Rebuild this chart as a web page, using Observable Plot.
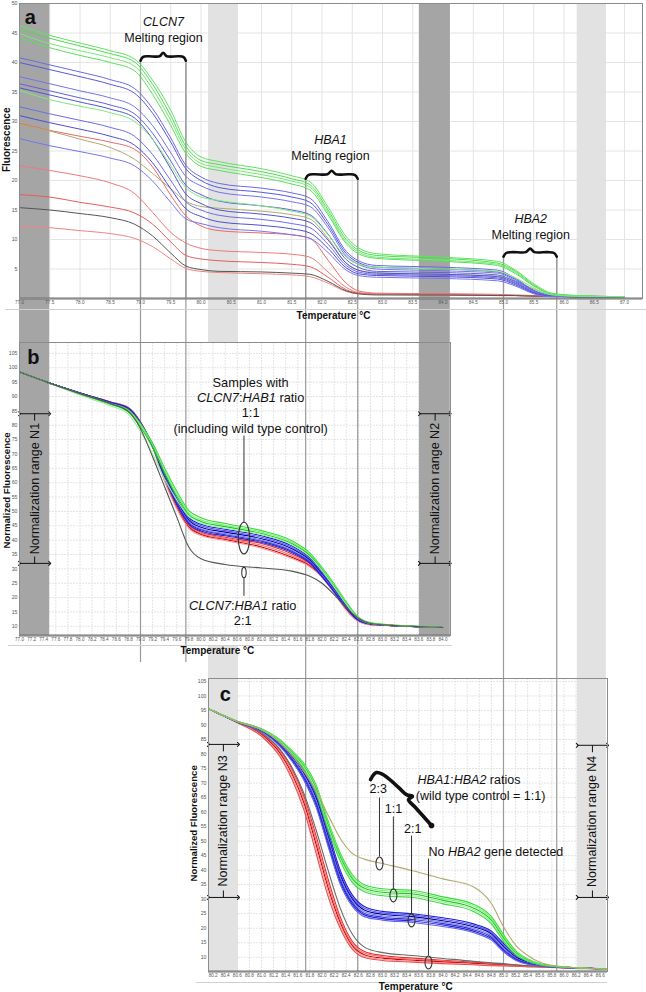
<!DOCTYPE html>
<html>
<head>
<meta charset="utf-8">
<script src="https://cdn.jsdelivr.net/npm/d3@7"></script>
<script src="https://cdn.jsdelivr.net/npm/@observablehq/plot@0.6"></script>
<style>
  html, body { margin: 0; padding: 0; background: #ffffff; }
  #page { position: relative; width: 646px; height: 992px; overflow: hidden; background: #fff; }
  .layer { position: absolute; left: 0; }
  .layer svg { display: block; overflow: visible; max-width: none; }
</style>
</head>
<body>
<div id="page"></div>
<script>
// ================= DATA =================
// ---- panel a : raw fluorescence vs temperature ----
const tempsA = [77.0, 77.5, 78.0, 78.5, 78.9, 79.2, 79.5, 79.75, 80.0, 80.3, 81.0, 81.5, 81.8, 82.1, 82.4, 82.6, 82.9, 84.0, 84.9, 85.2, 85.5, 85.8, 86.2, 87.0];
const aGreen = [
  [46.3, 44.6, 43.3, 42.0, 40.6, 37.0, 31.9, 26.5, 24.0, 23.2, 22.0, 20.8, 19.8, 15.5, 10.5, 8.6, 7.6, 7.0, 6.3, 4.8, 2.5, 0.9, 0.5, 0.3],
  [45.6, 44.1, 42.8, 41.5, 40.1, 36.3, 31.0, 25.8, 23.4, 22.7, 21.5, 20.3, 19.3, 15.0, 10.0, 8.2, 7.3, 6.8, 6.0, 4.6, 2.3, 0.8, 0.5, 0.3],
  [44.9, 43.2, 42.0, 40.8, 39.4, 35.5, 30.2, 25.2, 22.9, 22.2, 21.0, 19.9, 18.9, 14.6, 9.6, 7.9, 7.0, 6.5, 5.8, 4.4, 2.2, 0.8, 0.4, 0.3],
  [44.2, 42.5, 41.2, 40.0, 38.6, 34.6, 29.3, 24.6, 22.4, 21.7, 20.5, 19.4, 18.4, 14.2, 9.3, 7.6, 6.8, 6.3, 5.6, 4.2, 2.1, 0.7, 0.4, 0.3],
  [35.3, 33.7, 32.6, 31.5, 30.0, 27.0, 22.5, 18.8, 17.2, 16.6, 15.7, 14.8, 14.0, 10.8, 7.0, 5.8, 5.3, 5.0, 4.6, 3.5, 1.8, 0.6, 0.4, 0.3]
];
const aBlue = [
  [40.8, 39.6, 38.4, 37.1, 35.6, 32.2, 27.2, 22.6, 20.6, 19.5, 18.7, 17.9, 17.0, 13.0, 8.0, 6.4, 5.6, 5.3, 4.8, 3.4, 1.4, 0.5, 0.3, 0.3],
  [40.0, 38.8, 37.6, 36.3, 34.8, 31.4, 26.5, 22.0, 20.0, 18.8, 18.0, 17.2, 16.3, 12.5, 7.6, 6.1, 5.3, 5.0, 4.5, 3.2, 1.3, 0.5, 0.3, 0.3],
  [37.6, 36.4, 35.2, 34.0, 32.5, 29.3, 24.7, 20.7, 19.1, 18.0, 17.2, 16.4, 15.6, 12.0, 7.2, 5.8, 5.0, 4.7, 4.3, 3.0, 1.2, 0.5, 0.3, 0.3],
  [36.4, 35.2, 34.0, 32.8, 31.3, 28.0, 23.3, 19.2, 17.6, 16.5, 15.7, 15.0, 14.2, 10.9, 6.6, 5.3, 4.6, 4.4, 4.0, 2.8, 1.1, 0.4, 0.3, 0.3],
  [35.7, 34.5, 33.3, 32.1, 30.6, 27.0, 22.0, 17.7, 16.1, 15.0, 14.3, 13.6, 12.9, 9.9, 6.0, 4.8, 4.3, 4.1, 3.7, 2.6, 1.0, 0.4, 0.3, 0.3],
  [32.5, 31.3, 30.2, 29.0, 27.5, 24.4, 20.0, 16.4, 15.0, 14.1, 13.4, 12.7, 12.0, 9.2, 5.6, 4.5, 4.1, 3.9, 3.5, 2.5, 1.0, 0.4, 0.3, 0.3],
  [31.0, 29.8, 28.7, 27.5, 26.0, 23.0, 18.6, 15.2, 13.9, 13.0, 12.4, 11.8, 11.1, 8.5, 5.2, 4.2, 3.9, 3.7, 3.3, 2.3, 0.9, 0.4, 0.3, 0.3],
  [27.1, 25.9, 24.9, 23.8, 22.5, 19.9, 16.3, 13.5, 12.7, 12.0, 11.4, 10.8, 10.2, 7.8, 4.8, 3.9, 3.6, 3.4, 3.0, 2.1, 0.8, 0.3, 0.3, 0.3]
];
const aRed = [
  [29.7, 28.5, 27.5, 26.5, 25.3, 22.3, 17.5, 14.0, 12.3, 11.5, 11.1, 10.8, 10.2, 6.5, 2.6, 1.3, 0.9, 0.8, 0.7, 0.6, 0.5, 0.4, 0.4, 0.3],
  [22.5, 21.7, 20.8, 19.6, 17.8, 14.6, 11.2, 9.4, 8.5, 8.1, 7.8, 7.5, 7.0, 4.5, 1.9, 1.0, 0.8, 0.7, 0.6, 0.5, 0.4, 0.4, 0.3, 0.3],
  [17.6, 17.2, 16.3, 15.5, 14.5, 12.6, 9.6, 7.3, 6.7, 6.4, 6.1, 5.8, 5.4, 3.6, 1.5, 0.9, 0.7, 0.6, 0.5, 0.5, 0.4, 0.4, 0.3, 0.3],
  [12.2, 12.0, 11.5, 11.0, 10.2, 8.8, 6.7, 5.1, 4.6, 4.4, 4.2, 4.0, 3.7, 2.6, 1.2, 0.8, 0.7, 0.6, 0.5, 0.5, 0.4, 0.4, 0.3, 0.3]
];
const aBlack = [
  [15.4, 15.0, 14.4, 13.7, 12.6, 10.6, 7.7, 5.5, 4.9, 4.6, 4.5, 4.3, 4.1, 2.9, 1.3, 0.8, 0.6, 0.6, 0.5, 0.5, 0.4, 0.4, 0.3, 0.3]
];
const aOlive = [
  [29.5, 28.4, 27.0, 25.6, 23.6, 21.2, 18.6, 16.5, 15.6, 15.3, 14.8, 14.2, 13.5, 10.2, 6.0, 4.8, 4.4, 4.1, 3.8, 2.9, 1.6, 0.6, 0.4, 0.3]
];

// ---- panel b : normalized to N1 / N2 ----
const tempsB = [77.0, 77.45, 78.0, 78.5, 78.8, 79.0, 79.2, 79.4, 79.6, 79.8, 80.0, 80.4, 81.0, 81.5, 81.8, 82.0, 82.2, 82.4, 82.6, 82.8, 83.2, 83.6, 84.0];
const bGreen = [
  [98.5, 95.0, 91.0, 87.6, 85.3, 80.6, 73.8, 65.0, 57.0, 50.3, 47.8, 45.8, 43.3, 39.8, 35.5, 30.5, 24.8, 18.5, 13.2, 11.3, 10.4, 10.0, 9.6],
  [98.5, 95.0, 90.9, 87.5, 85.0, 80.1, 73.1, 64.2, 56.2, 49.5, 47.1, 45.2, 42.8, 39.3, 35.0, 30.1, 24.4, 18.2, 13.0, 11.2, 10.4, 10.0, 9.6],
  [98.5, 95.0, 90.8, 87.3, 84.6, 79.4, 72.2, 63.3, 55.3, 48.8, 46.5, 44.7, 42.3, 38.8, 34.6, 29.7, 24.0, 17.9, 12.9, 11.1, 10.3, 9.9, 9.6],
  [98.5, 95.0, 90.5, 86.8, 83.8, 77.8, 70.0, 61.2, 54.0, 48.2, 46.0, 44.2, 41.9, 38.4, 34.2, 29.4, 23.7, 17.7, 12.8, 11.0, 10.3, 9.9, 9.6]
];
const bBlue = [
  [98.5, 95.0, 91.1, 87.9, 85.7, 80.7, 73.4, 63.2, 54.5, 47.8, 45.5, 43.8, 41.5, 38.0, 33.8, 29.0, 23.4, 17.4, 12.6, 11.0, 10.3, 9.9, 9.6],
  [98.5, 95.0, 91.1, 87.9, 85.7, 80.6, 73.1, 62.8, 54.0, 47.3, 45.0, 43.3, 41.0, 37.5, 33.4, 28.6, 23.1, 17.1, 12.5, 11.0, 10.3, 9.9, 9.6],
  [98.5, 95.0, 91.1, 87.9, 85.8, 80.7, 73.0, 62.5, 53.6, 46.9, 44.5, 42.8, 40.5, 37.0, 33.0, 28.2, 22.8, 16.9, 12.4, 10.9, 10.3, 9.9, 9.6],
  [98.5, 95.0, 91.2, 88.0, 85.8, 80.8, 72.9, 62.2, 53.2, 46.4, 44.0, 42.3, 40.0, 36.5, 32.6, 27.8, 22.5, 16.7, 12.3, 10.9, 10.2, 9.9, 9.6],
  [98.5, 95.0, 91.2, 88.0, 85.9, 80.8, 72.8, 61.9, 52.8, 46.0, 43.6, 41.9, 39.6, 36.1, 32.3, 27.5, 22.2, 16.5, 12.2, 10.8, 10.2, 9.9, 9.6],
  [98.5, 95.0, 91.2, 88.0, 85.9, 80.9, 72.7, 61.6, 52.4, 45.6, 43.2, 41.5, 39.2, 35.7, 32.0, 27.2, 22.0, 16.3, 12.1, 10.8, 10.2, 9.9, 9.6]
];
const bRed = [
  [98.5, 95.0, 91.2, 88.1, 86.0, 81.0, 72.8, 61.5, 52.1, 45.2, 42.8, 41.0, 38.8, 35.2, 31.8, 28.0, 22.3, 16.2, 12.0, 10.7, 10.2, 9.9, 9.6],
  [98.5, 95.0, 91.2, 88.1, 86.0, 81.0, 72.6, 61.1, 51.7, 44.8, 42.4, 40.6, 38.2, 34.6, 31.4, 27.7, 22.0, 16.0, 11.9, 10.6, 10.2, 9.9, 9.6],
  [98.5, 95.0, 91.2, 88.1, 86.1, 81.1, 72.5, 60.8, 51.3, 44.5, 42.0, 40.2, 37.6, 34.0, 31.0, 27.4, 21.8, 15.8, 11.8, 10.6, 10.2, 9.9, 9.6],
  [98.5, 95.0, 91.2, 88.2, 86.1, 81.1, 72.3, 60.4, 50.9, 44.1, 41.6, 39.9, 37.2, 33.6, 30.7, 27.1, 21.6, 15.6, 11.7, 10.5, 10.2, 9.9, 9.6]
];
const bBlack = [
  [98.5, 95.0, 91.0, 87.6, 84.8, 78.8, 69.0, 58.5, 48.0, 37.5, 33.5, 31.5, 30.3, 29.2, 27.4, 25.0, 21.0, 16.5, 12.8, 11.0, 10.3, 9.9, 9.6]
];

// ---- panel c : normalized to N3 / N4 ----
const tempsC = [80.13, 80.6, 81.0, 81.3, 81.5, 81.7, 81.9, 82.1, 82.3, 82.5, 82.7, 83.0, 83.5, 84.0, 84.5, 84.8, 85.0, 85.2, 85.4, 85.6, 85.9, 86.3, 86.7];
const cRed = [
  [95.5, 91.0, 87.2, 81.5, 75.0, 65.5, 52.0, 37.0, 24.0, 15.5, 12.0, 10.6, 9.7, 9.0, 8.3, 7.9, 7.6, 7.3, 7.1, 6.9, 6.6, 6.3, 6.0],
  [95.5, 91.0, 87.0, 81.0, 74.2, 64.5, 50.5, 35.5, 23.0, 14.8, 11.5, 10.2, 9.4, 8.7, 8.1, 7.7, 7.5, 7.2, 7.0, 6.8, 6.6, 6.3, 6.0],
  [95.5, 90.9, 86.7, 80.4, 73.3, 63.2, 49.0, 34.0, 22.0, 14.0, 10.9, 9.7, 9.0, 8.4, 7.9, 7.5, 7.3, 7.1, 6.9, 6.8, 6.5, 6.3, 6.0],
  [95.5, 90.9, 86.4, 79.8, 72.4, 62.0, 47.5, 32.6, 21.0, 13.4, 10.4, 9.3, 8.6, 8.1, 7.6, 7.3, 7.1, 7.0, 6.8, 6.7, 6.5, 6.2, 6.0],
  [95.5, 90.8, 86.1, 79.2, 71.5, 60.8, 46.0, 31.0, 20.0, 12.8, 9.9, 8.9, 8.3, 7.8, 7.4, 7.1, 7.0, 6.9, 6.7, 6.6, 6.4, 6.2, 6.0]
];
const cGray = [
  [95.5, 91.0, 87.3, 81.8, 75.5, 66.5, 54.0, 40.0, 27.0, 18.0, 13.5, 11.6, 10.6, 9.6, 8.6, 8.1, 7.8, 7.4, 7.1, 6.9, 6.6, 6.3, 6.0]
];
const cBlue = [
  [95.5, 91.2, 88.3, 84.2, 80.0, 74.5, 66.5, 53.5, 40.0, 31.5, 27.5, 25.8, 25.0, 23.6, 21.5, 19.0, 14.8, 10.8, 8.7, 7.6, 6.8, 6.3, 6.0],
  [95.5, 91.2, 88.2, 84.0, 79.6, 74.0, 65.8, 52.6, 39.2, 30.8, 26.9, 25.3, 24.5, 23.1, 21.0, 18.5, 14.2, 10.4, 8.5, 7.5, 6.8, 6.3, 6.0],
  [95.5, 91.1, 88.1, 83.7, 79.2, 73.4, 65.0, 51.7, 38.4, 30.1, 26.3, 24.8, 24.0, 22.6, 20.5, 18.0, 13.7, 10.1, 8.3, 7.4, 6.7, 6.3, 6.0],
  [95.5, 91.1, 88.0, 83.5, 78.8, 72.8, 64.2, 50.8, 37.6, 29.4, 25.7, 24.3, 23.5, 22.1, 20.0, 17.4, 13.2, 9.8, 8.1, 7.3, 6.7, 6.3, 6.0],
  [95.5, 91.1, 87.9, 83.2, 78.4, 72.2, 63.4, 49.9, 36.8, 28.8, 25.1, 23.8, 23.0, 21.6, 19.5, 16.9, 12.7, 9.5, 7.9, 7.2, 6.6, 6.3, 6.0],
  [95.5, 91.0, 87.8, 83.0, 78.0, 71.6, 62.6, 49.0, 36.0, 28.2, 24.6, 23.3, 22.5, 21.1, 19.0, 16.4, 12.3, 9.2, 7.8, 7.1, 6.6, 6.2, 6.0],
  [95.5, 91.0, 87.7, 82.7, 77.6, 71.0, 61.8, 48.2, 35.2, 27.6, 24.0, 22.8, 22.0, 20.6, 18.5, 15.9, 11.9, 9.0, 7.6, 7.0, 6.5, 6.2, 6.0]
];
const cGreen = [
  [95.5, 91.3, 88.7, 85.0, 81.2, 76.8, 69.5, 57.0, 46.0, 38.5, 35.0, 33.6, 33.0, 30.8, 28.3, 24.0, 17.8, 12.3, 9.4, 7.8, 6.9, 6.3, 6.0],
  [95.5, 91.3, 88.6, 84.8, 80.9, 76.3, 68.8, 56.2, 45.3, 37.8, 34.4, 33.0, 32.4, 30.2, 27.7, 23.4, 17.2, 11.9, 9.2, 7.7, 6.9, 6.3, 6.0],
  [95.5, 91.2, 88.5, 84.6, 80.6, 75.8, 68.2, 55.5, 44.6, 37.1, 33.8, 32.4, 31.8, 29.6, 27.0, 22.7, 16.6, 11.5, 9.0, 7.6, 6.8, 6.3, 6.0],
  [95.5, 91.2, 88.4, 84.4, 80.3, 75.3, 67.5, 54.7, 43.9, 36.4, 33.2, 31.8, 31.2, 29.0, 26.4, 22.1, 16.0, 11.2, 8.8, 7.5, 6.8, 6.3, 6.0],
  [95.5, 91.2, 88.3, 84.2, 80.0, 74.8, 66.8, 54.0, 43.2, 35.8, 32.6, 31.2, 30.6, 28.4, 25.8, 21.5, 15.5, 10.9, 8.6, 7.4, 6.7, 6.3, 6.0]
];
const cOlive = [
  [95.5, 91.3, 88.4, 84.0, 79.6, 74.0, 67.5, 59.0, 51.0, 45.8, 43.8, 42.3, 39.8, 37.0, 34.3, 28.5, 20.5, 14.2, 10.6, 8.3, 6.9, 6.3, 6.0]
];

// ---- colours ----
const greensA = ["#5fe35f", "#4fdc4f", "#72ea72", "#58e058", "#7aeb7a"];
const bluesA = ["#6a6ae4", "#5858dc", "#7474ea", "#6060e0", "#5252d6", "#6c6cea", "#4e4ed6", "#7676ee"];
const redsA = ["#ec6868", "#f07a7a", "#e65c5c", "#f08484"];
const greensBC = ["#33dd33", "#77ee77", "#22c822", "#99f099", "#44d844"];
const bluesBC = ["#1a1ad8", "#5555e8", "#0000a8", "#7777ee", "#3030c8", "#2222e0", "#6262e6"];
const redsBC = ["#ee2a2a", "#f07070", "#cc0000", "#f49a9a", "#e85050"];
const blackCol = "#555555", olivePaleCol = "#b2aa6c";

// ---- temperature-defined regions ----
const DARK = "#a5a5a5", LIGHT = "#e2e2e2";
const normRanges = [
  {id: "N1", t1: 77.0, t2: 77.5, fill: DARK},
  {id: "N2", t1: 83.61, t2: 84.12, fill: DARK},
  {id: "N3", t1: 80.124, t2: 80.62, fill: LIGHT},
  {id: "N4", t1: 86.22, t2: 86.7, fill: LIGHT}
];
const meltRegions = [
  {gene: "CLCN7", t1: 79.0, t2: 79.75, v: 40.3, labelT: 79.38, labelV: 46.8},
  {gene: "HBA1", t1: 81.73, t2: 82.59, v: 20.3, labelT: 82.14, labelV: 26.8},
  {gene: "HBA2", t1: 85.0, t2: 85.88, v: 7.1, labelT: 85.45, labelV: 13.4}
];

// ---- annotation texts / positions (data units) ----
const bNotes = [
  {t: 80.82, v: 94.8, s: "Samples with"},
  {t: 80.82, v: 89.6, s: "_CLCN7_:_HAB1_ ratio"},
  {t: 80.82, v: 84.4, s: "1:1"},
  {t: 80.82, v: 78.8, s: "(including wild type control)"},
  {t: 80.69, v: 17.0, s: "_CLCN7_:_HBA1_ ratio"},
  {t: 80.69, v: 11.8, s: "2:1"}
];
const bLeaders = [{t: 80.71, v1: 76.4, v2: 46.2}, {t: 80.71, v1: 26.9, v2: 20.6}];
const bEllipses = [{t: 80.71, v: 40.7, rx: 5.7, ry: 15.8}, {t: 80.71, v: 28.7, rx: 2.2, ry: 5.2}];
const cNotesLeft = [
  {t: 83.58, v: 71.2, s: "_HBA1_:_HBA2_ ratios"},
  {t: 83.55, v: 65.4, s: "(wild type control = 1:1)"},
  {t: 83.76, v: 46.4, s: "No _HBA2_ gene detected"}
];
const cRatioLabels = [
  {t: 82.93, v: 68.1, s: "2:3"},
  {t: 83.18, v: 60.9, s: "1:1"},
  {t: 83.50, v: 54.3, s: "2:1"}
];
const cLeaders = [
  {t: 82.95, v1: 65.0, v2: 44.7},
  {t: 83.18, v1: 58.5, v2: 33.7},
  {t: 83.48, v1: 51.9, v2: 25.1},
  {t: 83.76, v1: 44.0, v2: 10.6}
];
const cEllipses = [{t: 82.95, v: 42.3}, {t: 83.18, v: 31.3}, {t: 83.48, v: 22.7}, {t: 83.76, v: 8.2}];
const cBraceT = [82.802, 82.901, 83.033, 83.264, 83.397, 83.496, 83.430, 83.529, 83.678, 83.810];
const cBraceV = [71.2, 73.6, 72.6, 68.5, 66.0, 65.4, 64.3, 61.9, 58.5, 55.4];
const bNorm = [
  {id: "N1", t1: 77.0, t2: 77.5, tc: 77.25, vTop: 84.0, vBot: 31.9},
  {id: "N2", t1: 83.61, t2: 84.12, tc: 83.87, vTop: 84.0, vBot: 31.9}
];
const cNorm = [
  {id: "N3", t1: 80.124, t2: 80.62, tc: 80.37, vTop: 83.3, vBot: 30.6},
  {id: "N4", t1: 86.22, t2: 86.72, tc: 86.47, vTop: 83.0, vBot: 30.6}
];

// ================= LAYOUT =================
const W = 646;
const PX_PER_DEG = 60.5;
const FONT = '"Liberation Sans", Arial, Helvetica, sans-serif';
const LA = {top: 0, height: 330, mt: 3, mb: 32, ml: 19, mr: 4};
const LB = {top: 330, height: 340, mt: 12, mb: 35, ml: 19, mr: 196};
const LC = {top: 665, height: 327, mt: 13, mb: 21, ml: 208, mr: 39};
const span = L => (W - L.ml - L.mr) / PX_PER_DEG;
const domA = [77.0, 77.0 + span(LA)];
const domB = [77.0, 77.0 + span(LB)];
const domC = [80.124, 80.124 + span(LC)];
const yDomA = [0, 50], yDomB = [6.8, 108.8], yDomC = [5.1, 106.0];
const xTicksA = d3.range(0, 21).map(i => +(77 + i * 0.5).toFixed(1));
const xTicksB = d3.range(0, 36).map(i => +(77 + i * 0.2).toFixed(1));
const xTicksC = d3.range(0, 33).map(i => +(80.2 + i * 0.2).toFixed(1));
const yTicksA = d3.range(5, 51, 5);
const yTicksBC = d3.range(10, 106, 5);
const GUIDE = "#9a9a9a", GRID = "#e4e4e4";

// ================= HELPERS =================
function toRows(temps, groups) {
  const rows = [];
  groups.forEach(([name, arr, cols]) => arr.forEach((vals, si) => {
    vals.forEach((v, i) => rows.push({id: name + si, t: temps[i], v, color: cols[si % cols.length]}));
  }));
  return rows;
}
function braceRows(r) {
  const fx = [0, 0.05, 0.17, 0.42, 0.5, 0.58, 0.83, 0.95, 1];
  const fy = [0, 0.45, 0.56, 0.56, 1.0, 0.56, 0.56, 0.45, 0];
  const h = 1.36;
  return fx.map((f, i) => ({id: r.gene, t: r.t1 + f * (r.t2 - r.t1), v: r.v + fy[i] * h}));
}
function ellipseSymbol(rx, ry) {
  const k = 0.5523;
  return {draw(ctx) {
    ctx.moveTo(rx, 0);
    ctx.bezierCurveTo(rx, k * ry, k * rx, ry, 0, ry);
    ctx.bezierCurveTo(-k * rx, ry, -rx, k * ry, -rx, 0);
    ctx.bezierCurveTo(-rx, -k * ry, -k * rx, -ry, 0, -ry);
    ctx.bezierCurveTo(k * rx, -ry, rx, -k * ry, rx, 0);
    ctx.closePath();
  }};
}
function common(L, xDom, yDom, xTicks, yTicks) {
  return {
    width: W, height: L.height, marginTop: L.mt, marginBottom: L.mb, marginLeft: L.ml, marginRight: L.mr,
    x: {domain: xDom, ticks: xTicks, tickFormat: ".1f", tickSize: 0, tickPadding: 2, label: null},
    y: {domain: yDom, ticks: yTicks, tickSize: 0, tickPadding: 2, label: null},
    color: {type: "identity"},
    style: {background: "transparent", overflow: "visible", fontFamily: FONT, fontSize: "5px", color: "#555"}
  };
}
function finish(svg) {
  svg.querySelectorAll('g[aria-label^="x-axis"] text').forEach(t => { t.style.fontSize = "4.6px"; t.style.fill = "#555"; });
  svg.querySelectorAll('g[aria-label^="y-axis"] text').forEach(t => { t.style.fontSize = "5.2px"; t.style.fill = "#555"; });
  svg.querySelectorAll("text").forEach(el => {
    if (el.children.length) return;
    const s = el.textContent;
    if (!s.includes("_")) return;
    el.textContent = "";
    s.split("_").forEach((p, i) => {
      if (!p) return;
      const ts = document.createElementNS("http://www.w3.org/2000/svg", "tspan");
      ts.textContent = p;
      if (i % 2 === 1) ts.setAttribute("font-style", "italic");
      el.appendChild(ts);
    });
  });
  return svg;
}
const txt = (fs, extra = {}) => Object.assign({x: "t", y: "v", text: "s", fontSize: fs, fill: "#111", fontFamily: FONT}, extra);

// ================= PANEL A =================
const rowsA = toRows(tempsA, [
  ["red", aRed, redsA], ["olive", aOlive, [olivePaleCol]], ["black", aBlack, [blackCol]],
  ["blue", aBlue, bluesA], ["green", aGreen, greensA]
]);
const guideEnds = meltRegions.flatMap(r => [{t: r.t1, v: r.v, gene: r.gene}, {t: r.t2, v: r.v, gene: r.gene}]);
const textsA = meltRegions.flatMap(r => [
  {t: r.labelT, v: r.labelV, s: "_" + r.gene + "_"},
  {t: r.labelT, v: r.labelV - 2.7, s: "Melting region"}
]);
const chartA = finish(Plot.plot({
  ...common(LA, domA, yDomA, xTicksA, yTicksA),
  marks: [
    Plot.ruleX(xTicksA, {stroke: GRID}),
    Plot.ruleY(yTicksA, {stroke: GRID}),
    Plot.rect(normRanges, {x1: "t1", x2: "t2", y1: () => yDomA[0], y2: () => yDomA[1], fill: "fill"}),
    Plot.ruleX(guideEnds, {x: "t", y1: "v", y2: () => yDomA[0], stroke: GUIDE, strokeWidth: 1.2}),
    Plot.line(rowsA, {x: "t", y: "v", z: "id", stroke: "color", strokeWidth: 1, curve: "monotone-x"}),
    Plot.line(meltRegions.flatMap(braceRows), {x: "t", y: "v", z: "id", stroke: "#111", strokeWidth: 2.6, curve: "catmull-rom", strokeLinecap: "round", strokeLinejoin: "round"}),
    Plot.text(textsA, txt(12.5)),
    Plot.text([{t: 77.18, v: 47.6, s: "a"}], txt(20, {fontWeight: "bold"})),
    Plot.text([{t: 82.19, v: -2.9, s: "Temperature °C"}], txt(10, {fontWeight: "bold"})),
    Plot.text([{t: 76.785, v: 26.9, s: "Fluorescence"}], txt(10, {fontWeight: "bold", rotate: -90})),
    Plot.ruleY([yDomA[0]], {stroke: "#707070", strokeWidth: 2}),
    Plot.frame({stroke: "#8c8c8c"})
  ]
}));

// ================= PANEL B =================
const rowsB = toRows(tempsB, [
  ["red", bRed, redsBC], ["blue", bBlue, bluesBC], ["green", bGreen, greensBC], ["black", bBlack, [blackCol]]
]);
const normMarks = (norm, fs) => [
  Plot.link(norm, {x1: "t1", x2: "t2", y1: "vTop", y2: "vTop", stroke: "#111", markerStart: "arrow", markerEnd: "arrow"}),
  Plot.link(norm, {x1: "t1", x2: "t2", y1: "vBot", y2: "vBot", stroke: "#111", markerStart: "arrow", markerEnd: "arrow"}),
  Plot.link(norm, {x1: "tc", x2: "tc", y1: "vTop", y2: d => d.vTop - 2.4, stroke: "#111"}),
  Plot.link(norm, {x1: "tc", x2: "tc", y1: "vBot", y2: d => d.vBot + 2.4, stroke: "#111"}),
  Plot.text(norm, {x: "tc", y: d => (d.vTop + d.vBot) / 2, text: d => "Normalization range " + d.id, rotate: -90, fontSize: fs, fill: "#111", fontFamily: FONT})
];
const chartB = finish(Plot.plot({
  ...common(LB, domB, yDomB, xTicksB, yTicksBC),
  marks: [
    Plot.frame({fill: "white"}),
    Plot.ruleX(xTicksB, {stroke: GRID, strokeDasharray: "2,1"}),
    Plot.ruleY(yTicksBC, {stroke: GRID, strokeDasharray: "2,1"}),
    Plot.rect(normRanges.slice(0, 2), {x1: "t1", x2: "t2", y1: () => yDomB[0], y2: () => yDomB[1], fill: "fill"}),
    Plot.ruleX(guideEnds.filter(d => d.t < domB[1]), {x: "t", stroke: GUIDE, strokeWidth: 1.2}),
    Plot.line(rowsB, {x: "t", y: "v", z: "id", stroke: "color", strokeWidth: 1.1, curve: "monotone-x"}),
    Plot.link(bLeaders, {x1: "t", x2: "t", y1: "v1", y2: "v2", stroke: "#333"}),
    ...bEllipses.map(e => Plot.dot([e], {x: "t", y: "v", symbol: ellipseSymbol(e.rx, e.ry), stroke: "#333", strokeWidth: 1.1, fill: "none"})),
    Plot.text(bNotes, txt(12.8)),
    ...normMarks(bNorm, 12.5),
    Plot.text([{t: 77.23, v: 103.5, s: "b"}], txt(20, {fontWeight: "bold"})),
    Plot.text([{t: 80.27, v: 1.6, s: "Temperature °C"}], txt(10, {fontWeight: "bold"})),
    Plot.text([{t: 76.80, v: 57.3, s: "Normalized Fluorescence"}], txt(9.6, {fontWeight: "bold", rotate: -90})),
    Plot.ruleY([yDomB[0]], {stroke: "#707070", strokeWidth: 2}),
    Plot.frame({stroke: "#8c8c8c"})
  ]
}));

// ================= PANEL C =================
const rowsC = toRows(tempsC, [
  ["red", cRed, redsBC], ["gray", cGray, ["#6a6a6a"]], ["blue", cBlue, bluesBC],
  ["green", cGreen, greensBC], ["olive", cOlive, [olivePaleCol]]
]);
const braceC = cBraceT.map((t, i) => ({t, v: cBraceV[i]}));
const chartC = finish(Plot.plot({
  ...common(LC, domC, yDomC, xTicksC, yTicksBC),
  marks: [
    Plot.frame({fill: "white"}),
    Plot.ruleX(xTicksC, {stroke: GRID, strokeDasharray: "2,1"}),
    Plot.ruleY(yTicksBC, {stroke: GRID, strokeDasharray: "2,1"}),
    Plot.rect(normRanges.slice(2), {x1: "t1", x2: "t2", y1: () => yDomC[0], y2: () => yDomC[1], fill: "fill"}),
    Plot.ruleX(guideEnds.filter(d => d.gene !== "CLCN7"), {x: "t", stroke: GUIDE, strokeWidth: 1.2}),
    Plot.line(rowsC, {x: "t", y: "v", z: "id", stroke: "color", strokeWidth: 1.1, curve: "monotone-x"}),
    Plot.link(cLeaders, {x1: "t", x2: "t", y1: "v1", y2: "v2", stroke: "#333"}),
    Plot.dot(cEllipses, {x: "t", y: "v", symbol: ellipseSymbol(3.5, 6.5), stroke: "#333", strokeWidth: 1.1, fill: "none"}),
    Plot.line(braceC, {x: "t", y: "v", stroke: "#111", strokeWidth: 3.6, curve: "catmull-rom", strokeLinecap: "round", strokeLinejoin: "round"}),
    Plot.dot(braceC.slice(-1), {x: "t", y: "v", r: 2.8, fill: "#111"}),
    Plot.text(cNotesLeft, txt(12.5, {textAnchor: "start"})),
    Plot.text(cRatioLabels, txt(12.5)),
    ...normMarks(cNorm, 12.5),
    Plot.text([{t: 80.40, v: 100.5, s: "c"}], txt(20, {fontWeight: "bold"})),
    Plot.text([{t: 83.55, v: -0.1, s: "Temperature °C"}], txt(10, {fontWeight: "bold"})),
    Plot.text([{t: 79.876, v: 56.1, s: "Normalized Fluorescence"}], txt(9.6, {fontWeight: "bold", rotate: -90})),
    Plot.ruleY([yDomC[0]], {stroke: "#707070", strokeWidth: 2}),
    Plot.frame({stroke: "#8c8c8c"})
  ]
}));

// ================= BACKGROUND (bands & guides crossing panels) =================
const xA = Plot.scale({x: chartA.scale("x")});
const yA = Plot.scale({y: chartA.scale("y")});
const aTop = LA.top + LA.mt;
const bTop = LB.top + LB.mt, bAxis = LB.top + LB.height - LB.mb;
const cAxis = LC.top + LC.height - LC.mb;
const bBoxBottom = bAxis + 10;
const bandSegs = [
  {t1: normRanges[0].t1, t2: normRanges[0].t2, y1: aTop, y2: bAxis, fill: DARK},
  {t1: normRanges[1].t1, t2: normRanges[1].t2, y1: aTop, y2: bAxis, fill: DARK},
  {t1: normRanges[2].t1, t2: normRanges[2].t2, y1: aTop, y2: bTop, fill: LIGHT},
  {t1: normRanges[2].t1, t2: normRanges[2].t2, y1: bBoxBottom, y2: cAxis, fill: LIGHT},
  {t1: normRanges[3].t1, t2: normRanges[3].t2, y1: aTop, y2: cAxis, fill: LIGHT}
];
const guideReach = {CLCN7: bAxis + 27, HBA1: cAxis, HBA2: cAxis};
const guideSegs = guideEnds.map(d => ({t: d.t, y1: LA.top + yA.apply(d.v), y2: guideReach[d.gene]}));
const boxLines = [
  {y: LA.top + LA.height - LA.mb + 11, x1: 5, x2: 646},
  {y: bBoxBottom, x1: 8, x2: 452},
  {y: cAxis + 11, x1: 196, x2: 607}
];
const bg = Plot.plot({
  width: W, height: 992, margin: 0,
  x: {type: "identity", axis: null}, y: {type: "identity", axis: null},
  color: {type: "identity"},
  style: {background: "transparent", overflow: "visible"},
  marks: [
    Plot.rect(bandSegs, {x1: d => xA.apply(d.t1), x2: d => xA.apply(d.t2), y1: "y1", y2: "y2", fill: "fill"}),
    Plot.ruleX(guideSegs, {x: d => xA.apply(d.t), y1: "y1", y2: "y2", stroke: GUIDE, strokeWidth: 1.2}),
    Plot.ruleY(boxLines, {y: "y", x1: "x1", x2: "x2", stroke: "#d0d0d0"})
  ]
});

// ================= ASSEMBLE =================
const page = document.getElementById("page");
[[bg, 0], [chartA, LA.top], [chartB, LB.top], [chartC, LC.top]].forEach(([svg, top]) => {
  const div = document.createElement("div");
  div.className = "layer";
  div.style.top = top + "px";
  div.appendChild(svg);
  page.appendChild(div);
});
</script>
</body>
</html>
